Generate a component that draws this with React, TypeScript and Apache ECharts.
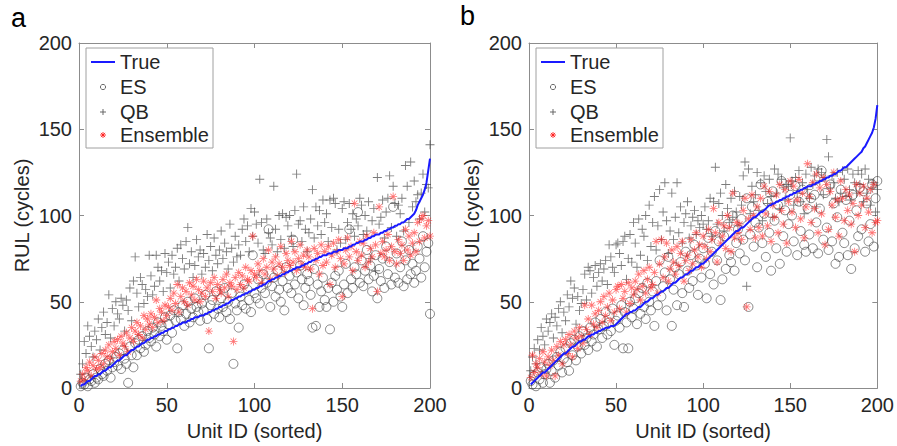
import React, { useEffect, useRef } from "react";
import * as echarts from "echarts";

// ---------- Panel a ----------
const TRUE_A = [
  1, 2, 2, 3, 4, 4, 5, 6, 7, 7,
  8, 8, 9, 10, 10, 11, 12, 12, 13, 14,
  15, 16, 16, 17, 18, 19, 19, 20, 21, 22,
  22, 23, 24, 24, 25, 26, 26, 27, 28, 28,
  29, 29, 30, 30, 31, 31, 32, 32, 33, 33,
  34, 34, 35, 35, 36, 36, 37, 37, 38, 38,
  38, 39, 39, 40, 40, 41, 41, 41, 42, 42,
  42, 43, 43, 44, 44, 45, 45, 46, 46, 47,
  47, 48, 48, 49, 49, 50, 51, 51, 52, 52,
  53, 53, 54, 54, 55, 55, 56, 56, 57, 57,
  58, 58, 59, 59, 60, 60, 61, 62, 62, 63,
  63, 64, 64, 65, 65, 66, 66, 67, 67, 68,
  68, 69, 69, 70, 70, 70, 71, 71, 72, 72,
  73, 73, 74, 74, 75, 75, 76, 76, 77, 77,
  77, 78, 78, 78, 79, 79, 79, 80, 80, 80,
  81, 81, 81, 82, 82, 83, 83, 84, 84, 85,
  85, 85, 86, 86, 87, 87, 88, 88, 89, 89,
  89, 90, 90, 91, 91, 92, 92, 93, 93, 94,
  94, 95, 95, 96, 96, 97, 98, 98, 99, 100,
  101, 103, 106, 108, 110, 112, 115, 119, 126, 133,
];
const ES_A = [
  1, 3, 2, 6, 1, 5, 4, 8, 3, 6,
  5, 11, 8, 7, 14, 10, 16, 6, 12, 15,
  18, 13, 20, 11, 22, 17, 14, 3, 24, 19,
  12, 26, 19, 28, 23, 30, 21, 25, 33, 29,
  27, 35, 31, 24, 38, 30, 36, 33, 41, 28,
  37, 42, 32, 45, 39, 23, 44, 40, 48, 36,
  43, 50, 38, 46, 41, 52, 47, 44, 39, 49,
  45, 54, 40, 23, 48, 51, 43, 56, 46, 41,
  52, 47, 58, 44, 50, 40, 55, 14, 49, 45,
  35, 53, 48, 60, 46, 57, 51, 44, 77, 55,
  52, 63, 49, 58, 66, 55, 61, 92, 47, 59,
  64, 53, 68, 57, 50, 62, 45, 70, 58, 65,
  55, 86, 60, 67, 52, 71, 63, 48, 58, 66,
  62, 54, 35, 69, 36, 60, 47, 56, 64, 51,
  47, 58, 34, 61, 50, 65, 57, 68, 53, 47,
  60, 72, 55, 92, 63, 58, 70, 66, 102, 61,
  74, 59, 68, 80, 63, 71, 56, 65, 77, 52,
  69, 62, 75, 58, 82, 66, 73, 60, 105, 64,
  78, 61, 70, 85, 59, 74, 63, 80, 66, 72,
  61, 68, 82, 75, 64, 88, 70, 79, 84, 43,
];
const QB_A = [
  8, 14, 27, 20, 36, 30, 24, 18, 33, 28,
  40, 22, 35, 44, 31, 38, 54, 29, 46, 36,
  50, 43, 40, 52, 48, 33, 51, 45, 58, 39,
  62, 76, 55, 47, 64, 60, 49, 57, 53, 77,
  65, 54, 59, 77, 70, 62, 68, 56, 78, 67,
  73, 58, 77, 66, 70, 81, 62, 83, 75, 69,
  85, 93, 72, 79, 64, 71, 86, 76, 80, 66,
  78, 70, 89, 74, 82, 68, 87, 77, 72, 80,
  91, 75, 84, 79, 69, 95, 81, 73, 88, 76,
  83, 77, 92, 98, 85, 94, 79, 104, 88, 102,
  95, 84, 121, 96, 80, 78, 98, 90, 87, 83,
  117, 92, 79, 100, 86, 101, 81, 99, 94, 100,
  88, 82, 103, 124, 95, 97, 85, 105, 92, 79,
  90, 98, 115, 87, 105, 94, 103, 89, 109, 96,
  101, 85, 109, 93, 110, 107, 80, 92, 84, 104,
  108, 86, 96, 107, 92, 101, 88, 98, 94, 110,
  106, 89, 100, 91, 108, 75, 97, 104, 68, 122,
  95, 99, 109, 87, 102, 110, 123, 93, 117, 107,
  88, 106, 101, 110, 91, 129, 117, 96, 131, 105,
  120, 108, 112, 98, 113, 124, 102, 118, 116, 141,
];
const ENS_A = [
  4, 8, 5, 12, 10, 15, 7, 13, 18, 11,
  16, 12, 20, 14, 22, 18, 25, 17, 21, 27,
  23, 28, 19, 30, 26, 24, 32, 21, 29, 35,
  27, 33, 38, 31, 36, 29, 42, 34, 40, 37,
  43, 35, 41, 51, 38, 46, 44, 39, 48, 42,
  47, 52, 45, 55, 49, 60, 44, 53, 58, 50,
  56, 48, 61, 54, 59, 51, 63, 57, 50, 55,
  62, 53, 58, 33, 61, 56, 64, 52, 60, 57,
  55, 63, 58, 66, 53, 61, 59, 27, 64, 57,
  67, 60, 65, 58, 70, 63, 62, 68, 88, 66,
  64, 72, 68, 61, 75, 66, 70, 80, 63, 73,
  69, 76, 65, 72, 82, 70, 67, 78, 74, 71,
  85, 73, 79, 68, 75, 83, 72, 77, 70, 80,
  76, 69, 46, 81, 74, 78, 66, 83, 71, 79,
  73, 82, 60, 77, 84, 70, 79, 86, 75, 53,
  72, 80, 87, 76, 82, 68, 107, 79, 74, 85,
  77, 84, 70, 88, 73, 81, 76, 90, 83, 56,
  105, 78, 85, 76, 80, 89, 74, 82, 111, 79,
  72, 86, 78, 83, 74, 92, 80, 88, 77, 84,
  90, 79, 96, 85, 98, 100, 87, 94, 97, 88,
];

// ---------- Panel b ----------
const TRUE_B = [
  2, 3, 4, 5, 6, 7, 8, 9, 9, 10,
  11, 12, 13, 14, 15, 16, 17, 18, 19, 20,
  20, 21, 22, 23, 24, 24, 25, 26, 27, 27,
  28, 28, 29, 30, 30, 31, 31, 32, 32, 33,
  33, 34, 34, 35, 35, 35, 36, 36, 36, 37,
  38, 39, 40, 41, 42, 43, 43, 44, 44, 45,
  45, 46, 47, 47, 48, 49, 50, 50, 51, 52,
  52, 53, 54, 54, 55, 56, 56, 57, 58, 58,
  59, 60, 61, 61, 62, 63, 64, 64, 65, 66,
  66, 67, 68, 68, 69, 70, 70, 71, 72, 72,
  73, 74, 75, 76, 77, 78, 79, 80, 81, 82,
  83, 84, 85, 86, 87, 88, 89, 90, 91, 91,
  92, 93, 93, 94, 95, 96, 97, 98, 99, 99,
  100, 101, 102, 102, 103, 104, 105, 106, 106, 107,
  107, 108, 108, 109, 109, 110, 110, 111, 111, 112,
  112, 113, 113, 114, 114, 115, 115, 116, 116, 117,
  117, 117, 118, 118, 119, 119, 120, 120, 121, 121,
  122, 122, 123, 123, 124, 124, 125, 126, 126, 127,
  128, 128, 129, 130, 131, 132, 133, 134, 135, 136,
  137, 139, 140, 142, 144, 146, 148, 151, 156, 164,
];
const ES_B = [
  4, 2, 7, 1, 9, 5, 12, 3, 8, 11,
  14, 3, 10, 16, 6, 18, 13, 21, 9, 17,
  23, 15, 10, 26, 19, 28, 16, 24, 30, 20,
  33, 25, 29, 22, 35, 27, 31, 38, 24, 34,
  40, 29, 36, 44, 31, 38, 33, 46, 25, 39,
  42, 35, 48, 23, 44, 38, 23, 50, 41, 46,
  52, 37, 55, 43, 58, 47, 40, 61, 50, 45,
  56, 36, 62, 48, 74, 53, 59, 67, 45, 76,
  63, 36, 57, 70, 48, 66, 73, 55, 47, 79,
  68, 58, 77, 62, 83, 71, 54, 75, 64, 81,
  72, 52, 87, 66, 79, 60, 91, 74, 85, 51,
  63, 88, 69, 95, 77, 73, 100, 68, 84, 92,
  78, 98, 86, 74, 110, 47, 89, 105, 82, 96,
  70, 93, 118, 84, 101, 76, 108, 90, 68, 114,
  97, 81, 106, 72, 120, 88, 103, 79, 95, 112,
  100, 85, 117, 77, 108, 91, 115, 83, 79, 104,
  89, 110, 81, 112, 96, 78, 104, 126, 86, 113,
  93, 80, 118, 85, 107, 72, 99, 76, 115, 90,
  84, 109, 77, 97, 69, 112, 81, 103, 88, 116,
  92, 114, 79, 107, 85, 95, 118, 82, 110, 120,
];
const QB_B = [
  10, 18, 23, 14, 28, 22, 35, 30, 25, 40,
  33, 38, 43, 29, 41, 36, 46, 50, 32, 44,
  39, 54, 47, 62, 52, 58, 37, 53, 45, 49,
  57, 66, 51, 70, 68, 55, 64, 71, 59, 67,
  72, 62, 69, 74, 60, 83, 76, 70, 67, 83,
  84, 78, 71, 85, 88, 63, 75, 89, 73, 96,
  84, 70, 98, 77, 92, 88, 100, 74, 106, 82,
  96, 111, 80, 94, 115, 86, 102, 119, 97, 78,
  91, 113, 86, 99, 119, 90, 105, 84, 96, 101,
  108, 87, 94, 99, 103, 89, 97, 93, 100, 95,
  105, 92, 97, 110, 88, 108, 128, 95, 107, 113,
  100, 91, 118, 104, 96, 110, 99, 114, 102, 94,
  111, 106, 123, 131, 59, 127, 101, 117, 108, 112,
  125, 103, 119, 97, 123, 114, 107, 121, 111, 99,
  127, 113, 124, 104, 121, 116, 109, 118, 117, 145,
  120, 106, 122, 113, 126, 108, 119, 101, 124, 115,
  110, 128, 118, 123, 105, 127, 120, 125, 112, 122,
  144, 134, 116, 123, 119, 110, 125, 108, 113, 126,
  121, 111, 127, 115, 109, 124, 119, 113, 126, 118,
  124, 108, 127, 113, 121, 106, 116, 119, 102, 115,
];
const ENS_B = [
  6, 19, 9, 14, 12, 17, 8, 21, 15, 7,
  18, 13, 22, 16, 7, 24, 19, 27, 14, 25,
  28, 20, 31, 25, 18, 33, 29, 23, 35, 30,
  26, 48, 34, 40, 31, 48, 37, 43, 35, 45,
  50, 38, 53, 42, 47, 55, 39, 51, 44, 57,
  59, 46, 60, 52, 56, 44, 61, 49, 58, 54,
  62, 57, 66, 51, 59, 68, 55, 63, 70, 58,
  60, 67, 85, 55, 72, 86, 64, 76, 84, 62,
  69, 80, 73, 66, 82, 71, 78, 85, 62, 74,
  77, 68, 86, 72, 80, 90, 76, 83, 70, 88,
  82, 75, 92, 79, 86, 104, 90, 73, 96, 84,
  88, 94, 81, 100, 93, 79, 113, 87, 96, 90,
  95, 86, 103, 110, 47, 98, 92, 112, 100, 87,
  105, 93, 110, 88, 117, 101, 94, 114, 85, 106,
  99, 112, 90, 118, 103, 95, 115, 84, 108, 120,
  102, 117, 93, 109, 121, 98, 113, 87, 105, 130,
  111, 96, 119, 104, 124, 90, 116, 101, 122, 83,
  118, 92, 114, 106, 125, 99, 109, 88, 120, 110,
  97, 115, 103, 112, 95, 107, 79, 118, 100, 113,
  106, 117, 93, 110, 102, 115, 90, 118, 96, 97,
];

const X_TICKS = { min: 0, max: 200, interval: 50 };
const Y_TICKS = { min: 0, max: 200, interval: 50 };
const LEGEND_NAMES = ["True", "ES", "QB", "Ensemble"];
const PANEL_LABELS = ["a", "b"];
const X_NAME = "Unit ID (sorted)";
const Y_NAME = "RUL (cycles)";

const FONT = '"Liberation Sans", Arial, Helvetica, sans-serif';
const TXT = "#262626";
const AX = "#8c8c8c";

const PLUS_PATH = "path://M4.5,0h1v4.5h4.5v1h-4.5v4.5h-1v-4.5h-4.5v-1h4.5z";
const STAR_PATH =
  "path://M4.5,0h1v10h-1z M0,4.5h10v1h-10z M1.1,1.8L1.8,1.1L8.9,8.2L8.2,8.9z M8.2,1.1L8.9,1.8L1.8,8.9L1.1,8.2z";

const toPts = (arr: number[]) => arr.map((v, i) => [i + 1, v]);

function makeAxes(gi: number) {
  const line = { show: true, onZero: false, lineStyle: { color: AX, width: 1 } };
  const tick = { show: true, inside: true, length: 5, lineStyle: { color: AX } };
  const label = { color: TXT, fontSize: 20, fontFamily: FONT };
  const x = [
    {
      type: "value", gridIndex: gi, position: "bottom", ...X_TICKS,
      axisLine: line, axisTick: tick, splitLine: { show: false },
      axisLabel: { ...label, margin: 7 },
      name: X_NAME, nameLocation: "middle", nameGap: 33,
      nameTextStyle: { ...label },
    },
    {
      type: "value", gridIndex: gi, position: "top", ...X_TICKS,
      axisLine: line, axisTick: tick, splitLine: { show: false },
      axisLabel: { show: false },
    },
  ];
  const y = [
    {
      type: "value", gridIndex: gi, position: "left", ...Y_TICKS,
      axisLine: line, axisTick: tick, splitLine: { show: false },
      axisLabel: { ...label, margin: 7 },
      name: Y_NAME, nameLocation: "middle", nameGap: 47,
      nameTextStyle: { ...label },
    },
    {
      type: "value", gridIndex: gi, position: "right", ...Y_TICKS,
      axisLine: line, axisTick: tick, splitLine: { show: false },
      axisLabel: { show: false },
    },
  ];
  return { x, y };
}

function makeSeries(axisIdx: number, t: number[], es: number[], qb: number[], ens: number[]) {
  return [
    {
      name: "ES", type: "scatter", xAxisIndex: axisIdx, yAxisIndex: axisIdx,
      data: toPts(es), symbol: "circle", symbolSize: 9, z: 2,
      itemStyle: { color: "rgba(0,0,0,0)", borderColor: "rgba(50,50,50,0.8)", borderWidth: 0.9 },
    },
    {
      name: "QB", type: "scatter", xAxisIndex: axisIdx, yAxisIndex: axisIdx,
      data: toPts(qb), symbol: PLUS_PATH, symbolSize: 9, z: 3,
      itemStyle: { color: "rgba(60,60,60,0.85)" },
    },
    {
      name: "Ensemble", type: "scatter", xAxisIndex: axisIdx, yAxisIndex: axisIdx,
      data: toPts(ens), symbol: STAR_PATH, symbolSize: 8, z: 4,
      itemStyle: { color: "rgba(255,20,20,0.75)" },
    },
    {
      name: "True", type: "line", xAxisIndex: axisIdx, yAxisIndex: axisIdx,
      data: toPts(t), symbol: "none", z: 5,
      lineStyle: { color: "#1a1aff", width: 2 },
    },
  ];
}

function legendGraphic(dx: number) {
  const tx = 120 + dx;
  const mx = 103 + dx;
  const ys = [62, 87, 112, 135];
  const text = (s: string, y: number) => ({
    type: "text", x: tx, y, z: 100,
    style: { text: s, fill: TXT, fontSize: 20, fontFamily: FONT, verticalAlign: "middle", align: "left" },
  });
  const g = "rgba(90,90,90,0.9)";
  const r = "rgba(255,20,20,0.85)";
  const s = 3;
  return [
    {
      type: "rect", z: 99, shape: { x: 86 + dx, y: 48, width: 127, height: 100 },
      style: { fill: "#fff", stroke: "#a0a0a0", lineWidth: 1 },
    },
    { type: "line", z: 100, shape: { x1: 91 + dx, y1: ys[0], x2: 115 + dx, y2: ys[0] }, style: { stroke: "#1a1aff", lineWidth: 2 } },
    text(LEGEND_NAMES[0], ys[0]),
    { type: "circle", z: 100, shape: { cx: mx, cy: ys[1], r: 2.6 }, style: { fill: "none", stroke: g, lineWidth: 1 } },
    text(LEGEND_NAMES[1], ys[1]),
    { type: "line", z: 100, shape: { x1: mx - s, y1: ys[2], x2: mx + s, y2: ys[2] }, style: { stroke: g, lineWidth: 1 } },
    { type: "line", z: 100, shape: { x1: mx, y1: ys[2] - s, x2: mx, y2: ys[2] + s }, style: { stroke: g, lineWidth: 1 } },
    text(LEGEND_NAMES[2], ys[2]),
    { type: "line", z: 100, shape: { x1: mx - s, y1: ys[3], x2: mx + s, y2: ys[3] }, style: { stroke: r, lineWidth: 1 } },
    { type: "line", z: 100, shape: { x1: mx, y1: ys[3] - s, x2: mx, y2: ys[3] + s }, style: { stroke: r, lineWidth: 1 } },
    { type: "line", z: 100, shape: { x1: mx - 2.1, y1: ys[3] - 2.1, x2: mx + 2.1, y2: ys[3] + 2.1 }, style: { stroke: r, lineWidth: 1 } },
    { type: "line", z: 100, shape: { x1: mx - 2.1, y1: ys[3] + 2.1, x2: mx + 2.1, y2: ys[3] - 2.1 }, style: { stroke: r, lineWidth: 1 } },
    text(LEGEND_NAMES[3], ys[3]),
  ];
}

export default function App() {
  const ref = useRef<HTMLDivElement>(null);
  useEffect(() => {
    if (!ref.current) return;
    const chart = echarts.init(ref.current, undefined, { renderer: "svg" });
    const a = makeAxes(0);
    const b = makeAxes(1);
    chart.setOption({
      animation: false,
      backgroundColor: "#ffffff",
      grid: [
        { left: 79, right: 467, top: 43, bottom: 56 },
        { left: 529, right: 17, top: 43, bottom: 56 },
      ],
      xAxis: [...a.x, ...b.x],
      yAxis: [...a.y, ...b.y],
      series: [
        ...makeSeries(0, TRUE_A, ES_A, QB_A, ENS_A),
        ...makeSeries(2, TRUE_B, ES_B, QB_B, ENS_B),
      ],
      graphic: [
        ...legendGraphic(0),
        ...legendGraphic(450),
        {
          type: "text", x: 11, y: 31, z: 100,
          style: { text: PANEL_LABELS[0], fill: "#000", fontSize: 27, fontFamily: FONT, verticalAlign: "bottom" },
        },
        {
          type: "text", x: 460, y: 29, z: 100,
          style: { text: PANEL_LABELS[1], fill: "#000", fontSize: 27, fontFamily: FONT, verticalAlign: "bottom" },
        },
      ],
    });
    return () => chart.dispose();
  }, []);
  return (
    <div
      ref={ref}
      style={{ position: "fixed", left: 0, top: 0, width: 897, height: 446, background: "#fff" }}
    />
  );
}
